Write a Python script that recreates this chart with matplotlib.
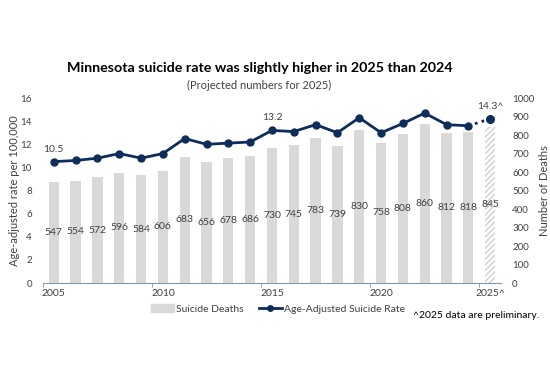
import matplotlib
matplotlib.use("Agg")
import matplotlib.pyplot as plt
import numpy as np

plt.rcParams['font.family'] = ['Lato', 'DejaVu Sans']

# datos
anios = list(range(2005, 2026))
muertes = [547, 554, 572, 596, 584, 606, 683, 656, 678, 686, 730,
           745, 783, 739, 830, 758, 808, 860, 812, 818, 845]
tasa = [10.5, 10.6, 10.8, 11.2, 10.8, 11.2, 12.5, 12.0, 12.1, 12.2, 13.2,
        13.1, 13.7, 13.0, 14.3, 13.0, 13.8, 14.7, 13.7, 13.6, 14.2]
etiquetas_tasa = {2005: "10.5", 2015: "13.2", 2025: "14.3^"}
etiquetas_x = ["2005", "2010", "2015", "2020", "2025^"]

azul = "#0d2d5a"
gris = "#d9d9d9"
texto = "#404040"

fig = plt.figure(figsize=(5.5, 3.7), dpi=100)
ax = fig.add_axes([0.078, 0.235, 0.833, 0.50])
ax2 = ax.twinx()

x = np.arange(len(anios))

# barras (eje derecho)
ax2.bar(x[:-1], muertes[:-1], width=0.47, color=gris, zorder=1)
ax2.bar(x[-1], muertes[-1], width=0.47, color="white", edgecolor="#d0d0d0",
        hatch="//////", linewidth=0, zorder=1)
for xi, m in zip(x, muertes):
    ax2.text(xi, m / 2, str(m), ha="center", va="center", fontsize=7.5, color=texto)

# linea (eje izquierdo)
ax.plot(x[:-1], tasa[:-1], color=azul, lw=2, marker="o", ms=5, zorder=3)
ax.plot(x[-2:], tasa[-2:], color=azul, lw=2, ls=(0, (1, 1.5)), zorder=3)
ax.plot(x[-1], tasa[-1], color=azul, marker="o", ms=5.5, zorder=3)
for a, t in etiquetas_tasa.items():
    i = anios.index(a)
    ax.text(x[i], tasa[i] + 0.7, t, ha="center", va="bottom", fontsize=7.5, color=texto)

ax.set_zorder(ax2.get_zorder() + 1)
ax.patch.set_visible(False)

ax.set_xlim(-0.5, len(anios) - 0.5)
ax.set_ylim(0, 16)
ax2.set_ylim(0, 1000)
ax.set_yticks(range(0, 17, 2))
ax2.set_yticks(range(0, 1001, 100))
ax.set_xticks(x[::5])
ax.set_xticklabels(etiquetas_x)
ax.set_xticks(np.arange(-0.5, 20, 5), minor=True)
ax.tick_params(axis="x", which="major", length=0, pad=4, labelsize=7.5, labelcolor=texto)
ax.tick_params(axis="x", which="minor", length=3, color="#8497b0")
ax.tick_params(axis="y", length=0, labelsize=7, labelcolor=texto, pad=8)
ax2.tick_params(axis="y", length=0, labelsize=7, labelcolor=texto, pad=8)

for a_ in (ax, ax2):
    for s in ("top", "left", "right", "bottom"):
        a_.spines[s].set_visible(False)
ax.spines["bottom"].set_visible(True)
ax.spines["bottom"].set_color("#8497b0")

ax.set_ylabel("Age-adjusted rate per 100,000", fontsize=8, color=texto, labelpad=0)
ax2.set_ylabel("Number of Deaths", fontsize=8, color=texto, labelpad=3)

fig.text(0.473, 0.815, "Minnesota suicide rate was slightly higher in 2025 than 2024",
         ha="center", va="center", fontsize=10.3, fontweight="bold", color="black")
fig.text(0.471, 0.768, "(Projected numbers for 2025)", ha="center", va="center",
         fontsize=8, color=texto)

# leyenda
h1 = plt.Rectangle((0, 0), 1, 1, color=gris)
h2 = plt.Line2D([], [], color=azul, lw=2, marker="o", ms=4)
fig.legend([h1, h2], ["Suicide Deaths", "Age-Adjusted Suicide Rate"],
           loc="center", bbox_to_anchor=(0.505, 0.165), ncol=2, frameon=False,
           fontsize=7.5, labelcolor=texto, handlelength=2.2, handletextpad=0.2,
           columnspacing=1.5)
fig.text(0.98, 0.148, "^2025 data are preliminary.", ha="right", va="center",
         fontsize=7.5, color="black")

fig.savefig("out.png", dpi=100)
